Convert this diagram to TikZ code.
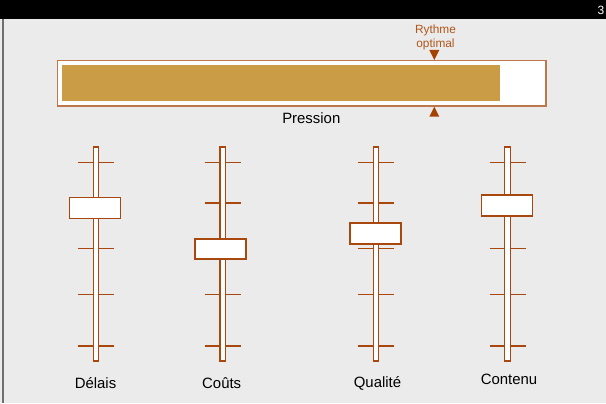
\documentclass[tikz,border=0pt]{standalone}
\usepackage{fontspec}
\setmainfont{Liberation Sans}
\definecolor{bgc}{HTML}{EBEBEB}
\definecolor{brn}{HTML}{A8480E}
\definecolor{gold}{HTML}{C99C45}
\definecolor{rtxt}{HTML}{B0561C}
\definecolor{tri}{HTML}{A54200}
\definecolor{edge}{HTML}{707070}
\begin{document}
\begin{tikzpicture}[x=0.75pt,y=-0.75pt,
  track/.style={draw=brn,fill=white,line width=0.8pt},
  tickln/.style={draw=brn,line width=1.05pt},
  handle/.style={draw=brn,fill=white,line width=1.1pt},
  lbl/.style={font=\fontsize{11.2pt}{13pt}\selectfont,text=black,inner sep=0pt},
  trimark/.style={fill=tri,draw=none}]
\useasboundingbox (0,0) rectangle (606,403);
\fill[bgc] (0,0) rectangle (606,403);
\fill[black] (0,0) rectangle (606,18.7);
\node[text=white,font=\fontsize{9pt}{10pt}\selectfont,inner sep=0pt] (num) at (601,10) {3};
\draw[edge,line width=1.4pt] (2.7,18.7) -- (2.7,403);
% pressure bar
\draw[draw=brn!75,fill=white,line width=1.1pt] (57.5,60.5) rectangle (546,106);
\fill[gold] (62,64.7) rectangle (500,101);
\fill[trimark] (429.3,50) -- (439.3,50) -- (434.3,60) -- cycle;
\fill[trimark] (429.3,116.7) -- (439.3,116.7) -- (434.3,106.7) -- cycle;
\node[text=rtxt,font=\fontsize{8.9pt}{10.5pt}\selectfont,align=center,inner sep=0pt] (ryt) at (435.5,37.5) {Rythme\\optimal};
\node[lbl] (pres) at (311.3,118.5) {Pression};
% sliders
\foreach \n/\xc/\hx/\hy/\hh/\lab/\lx/\ly in {del/96/95/197.5/21/Délais/95.5/383, cou/222.8/220.4/238.8/20.3/Coûts/221.7/383, qua/376/375.4/223.2/20.6/Qualité/377.5/383, con/507.7/507/195.2/20.6/Contenu/509/379}{
  \draw[track] (\xc-2.8,147) rectangle (\xc+2.8,361);
  \foreach \ty in {162.3,202.8,248.5,294.3,345.8}{
    \draw[tickln] (\xc-18.2,\ty) -- (\xc-2.8,\ty);
    \draw[tickln] (\xc+2.8,\ty) -- (\xc+18.2,\ty);
  }
  \draw[handle] (\hx-25.4,\hy) rectangle (\hx+25.4,\hy+\hh);
  \node[lbl] (\n) at (\lx,\ly) {\lab};
}
\end{tikzpicture}
\end{document}
